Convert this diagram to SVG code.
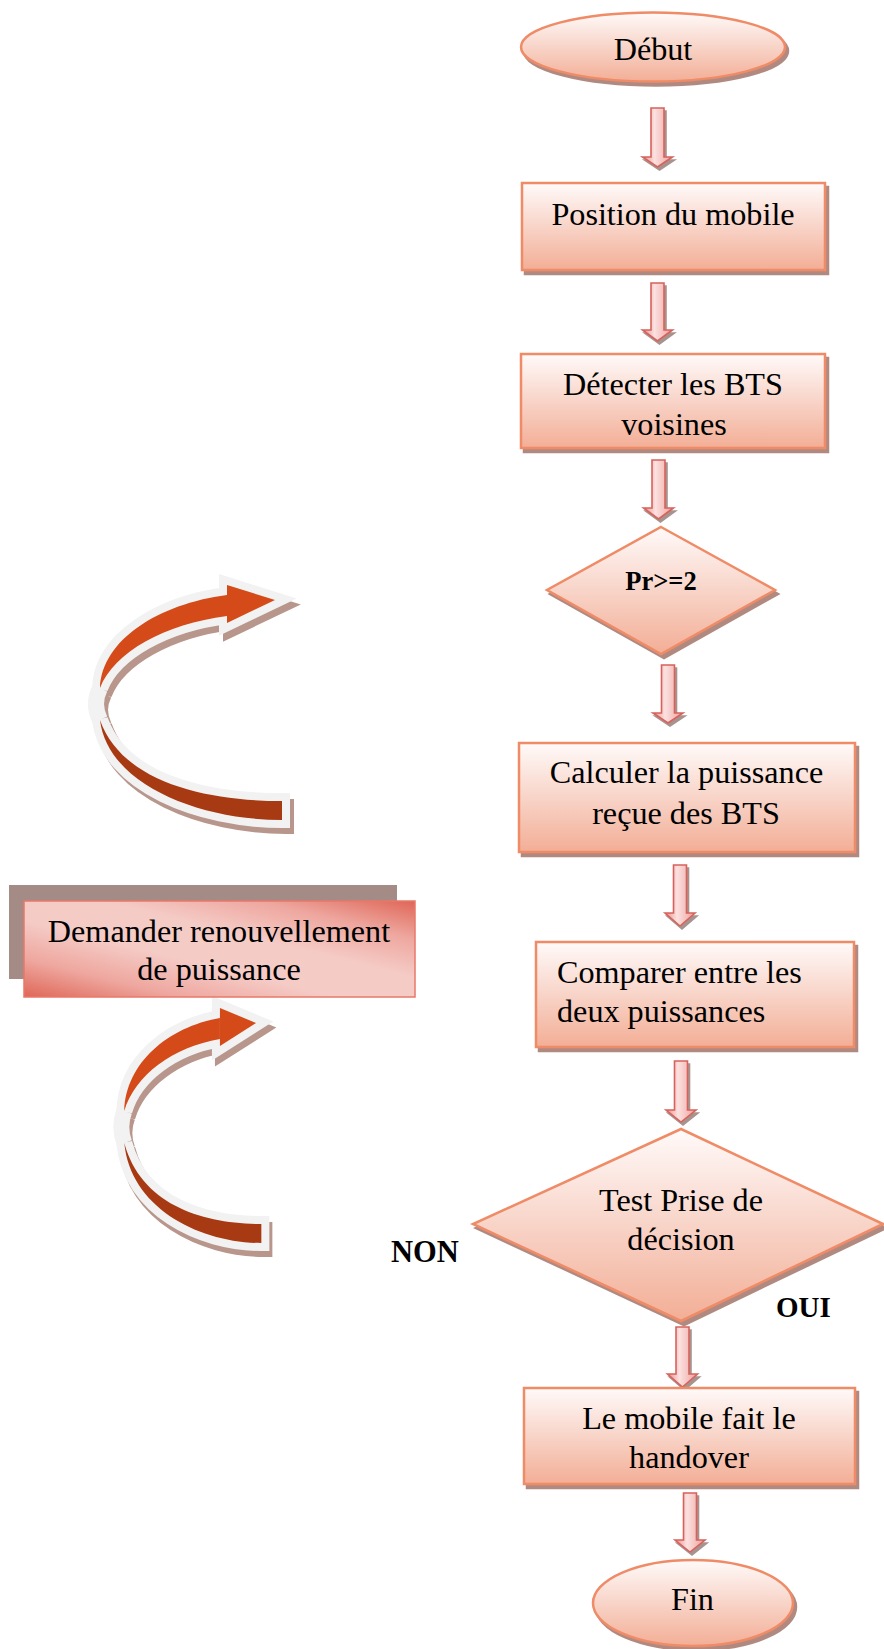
<svg xmlns="http://www.w3.org/2000/svg" xmlns:xlink="http://www.w3.org/1999/xlink" width="884" height="1649" viewBox="0 0 884 1649">
<style>
.t{font-family:"Liberation Serif","Times New Roman",serif;font-size:32.2px;fill:#000;text-anchor:middle}
.tl{text-anchor:start}
.b{font-family:"Liberation Serif","Times New Roman",serif;font-weight:bold;fill:#000}
.box{fill:url(#gNode);stroke:#ef8b66;stroke-width:2.5;filter:url(#nsh)}
.arr{fill:url(#gArr);stroke:#d6625b;stroke-width:1.6;filter:url(#ash)}
.caO{fill:#d44a18}
.caD{fill:#a83a13}
</style>
<defs>
<linearGradient id="gNode" x1="0" y1="0" x2="0" y2="1">
<stop offset="0" stop-color="#fffaf9"/>
<stop offset="0.5" stop-color="#f8d4c8"/>
<stop offset="1" stop-color="#f3ae96"/>
</linearGradient>
<linearGradient id="gArr" x1="0" y1="0" x2="1" y2="0">
<stop offset="0" stop-color="#ea8d88"/>
<stop offset="0.4" stop-color="#fbe1e0"/>
<stop offset="1" stop-color="#ee9f9b"/>
</linearGradient>
<linearGradient id="gDem" x1="0" y1="1" x2="1" y2="0">
<stop offset="0" stop-color="#df6657"/>
<stop offset="0.2" stop-color="#eea79f"/>
<stop offset="0.4" stop-color="#f5cbc6"/>
<stop offset="0.6" stop-color="#f5cbc6"/>
<stop offset="0.8" stop-color="#eea79f"/>
<stop offset="1" stop-color="#df6657"/>
</linearGradient>
<filter id="nsh" x="-10%" y="-10%" width="120%" height="130%">
<feDropShadow dx="3" dy="4" stdDeviation="0.5" flood-color="#b08a80" flood-opacity="1"/>
</filter>
<filter id="ash" x="-30%" y="-10%" width="160%" height="130%">
<feDropShadow dx="2" dy="3" stdDeviation="0.6" flood-color="#9c8783" flood-opacity="0.9"/>
</filter>
<path id="caOrange" d="M227,595 C158,604 102,640 100,688 C114,652 165,624 227,616 Z" vector-effect="non-scaling-stroke"/>
<path id="caHead" d="M227,585 L275,600 L227,623 Z" vector-effect="non-scaling-stroke"/>
<path id="caDark" d="M100,720 C108,785 200,820 282,820 L282,801 C205,801 122,782 100,720 Z" vector-effect="non-scaling-stroke"/>
<path id="caLink" d="M100,688 Q92,704 100,720" fill="none" vector-effect="non-scaling-stroke"/>
<g id="caOutline">
<use xlink:href="#caOrange"/>
<use xlink:href="#caHead"/>
<use xlink:href="#caDark"/>
<use xlink:href="#caLink"/>
</g>
<g id="caArrow">
<use xlink:href="#caOutline" transform="translate(4,6)" fill="#b8968b" stroke="#b8968b" stroke-width="16"/>
<use xlink:href="#caOutline" fill="#f2f2f2" stroke="#f2f2f2" stroke-width="16"/>
<use xlink:href="#caOrange" class="caO"/>
<use xlink:href="#caHead" class="caO"/>
<use xlink:href="#caDark" class="caD"/>
</g>
</defs>

<rect width="884" height="1649" fill="#ffffff"/>

<g id="connectors">
<path id="arrow-1" class="arr" d="M651,108 H664 V157 H672.5 L657.5,167 L642.5,157 H651 Z"/>
<path id="arrow-2" class="arr" d="M651,283 H664 V330 H672.5 L657.5,341 L642.5,330 H651 Z"/>
<path id="arrow-3" class="arr" d="M652,460 H665 V508 H673.5 L658.5,519 L643.5,508 H652 Z"/>
<path id="arrow-4" class="arr" d="M661.5,665 H674.5 V713 H683 L668,723 L653,713 H661.5 Z"/>
<path id="arrow-5" class="arr" d="M673.5,865 H686.5 V913 H695 L680,926 L665,913 H673.5 Z"/>
<path id="arrow-6" class="arr" d="M674.5,1061 H687.5 V1110 H696 L681,1122 L666,1110 H674.5 Z"/>
<path id="arrow-7" class="arr" d="M676,1327 H689 V1374 H697.5 L682.5,1387 L667.5,1374 H676 Z"/>
<path id="arrow-8" class="arr" d="M683.5,1493 H696.5 V1540 H705 L690,1552 L675,1540 H683.5 Z"/>
<g id="loop-arrow-1"><use xlink:href="#caArrow"/></g>
<g id="loop-arrow-2" transform="matrix(0.753 0 0 1 49 423)"><use xlink:href="#caArrow"/></g>
</g>

<g id="node-debut">
<ellipse class="box" cx="653" cy="47" rx="132" ry="34.5"/>
<text class="t" x="653" y="60">Début</text>
</g>

<g id="node-position">
<rect class="box" x="522" y="183" width="303" height="87"/>
<text class="t" x="673" y="225">Position du mobile</text>
</g>

<g id="node-detecter">
<rect class="box" x="521" y="354" width="304" height="94"/>
<text class="t" x="673" y="395">Détecter les BTS</text>
<text class="t" x="674" y="435">voisines</text>
</g>

<g id="node-pr">
<polygon class="box" points="661,527 775,590 661,654 547,590"/>
<text class="b" x="661" y="590" font-size="26.5" text-anchor="middle">Pr&gt;=2</text>
</g>

<g id="node-calculer">
<rect class="box" x="519" y="743" width="336" height="109"/>
<text class="t" x="686.5" y="783">Calculer la puissance</text>
<text class="t" x="686" y="824">reçue des BTS</text>
</g>

<g id="node-comparer">
<rect class="box" x="536" y="942" width="318" height="105"/>
<text class="t tl" x="557" y="983">Comparer entre les</text>
<text class="t tl" x="557" y="1022">deux puissances</text>
</g>

<g id="node-test">
<polygon class="box" points="681,1129 883,1224 681,1321 473,1224"/>
<text class="t" x="681" y="1211">Test Prise de</text>
<text class="t" x="681" y="1250">décision</text>
</g>

<g id="label-non"><text class="b" x="391" y="1262" font-size="30.5">NON</text></g>
<g id="label-oui"><text class="b" x="776" y="1317" font-size="29">OUI</text></g>

<g id="node-handover">
<rect class="box" x="524" y="1388" width="331" height="96"/>
<text class="t" x="689" y="1429">Le mobile fait le</text>
<text class="t" x="689" y="1468">handover</text>
</g>

<g id="node-fin">
<ellipse class="box" cx="693" cy="1603" rx="100" ry="43"/>
<text class="t" x="692.5" y="1610">Fin</text>
</g>

<g id="node-demander">
<rect x="9" y="885" width="388" height="94" fill="#a58b86"/>
<rect x="24" y="901" width="391" height="96" fill="url(#gDem)" stroke="#e8786a" stroke-width="1.5"/>
<text class="t" x="219" y="942">Demander renouvellement</text>
<text class="t" x="219" y="980">de puissance</text>
</g>
</svg>
